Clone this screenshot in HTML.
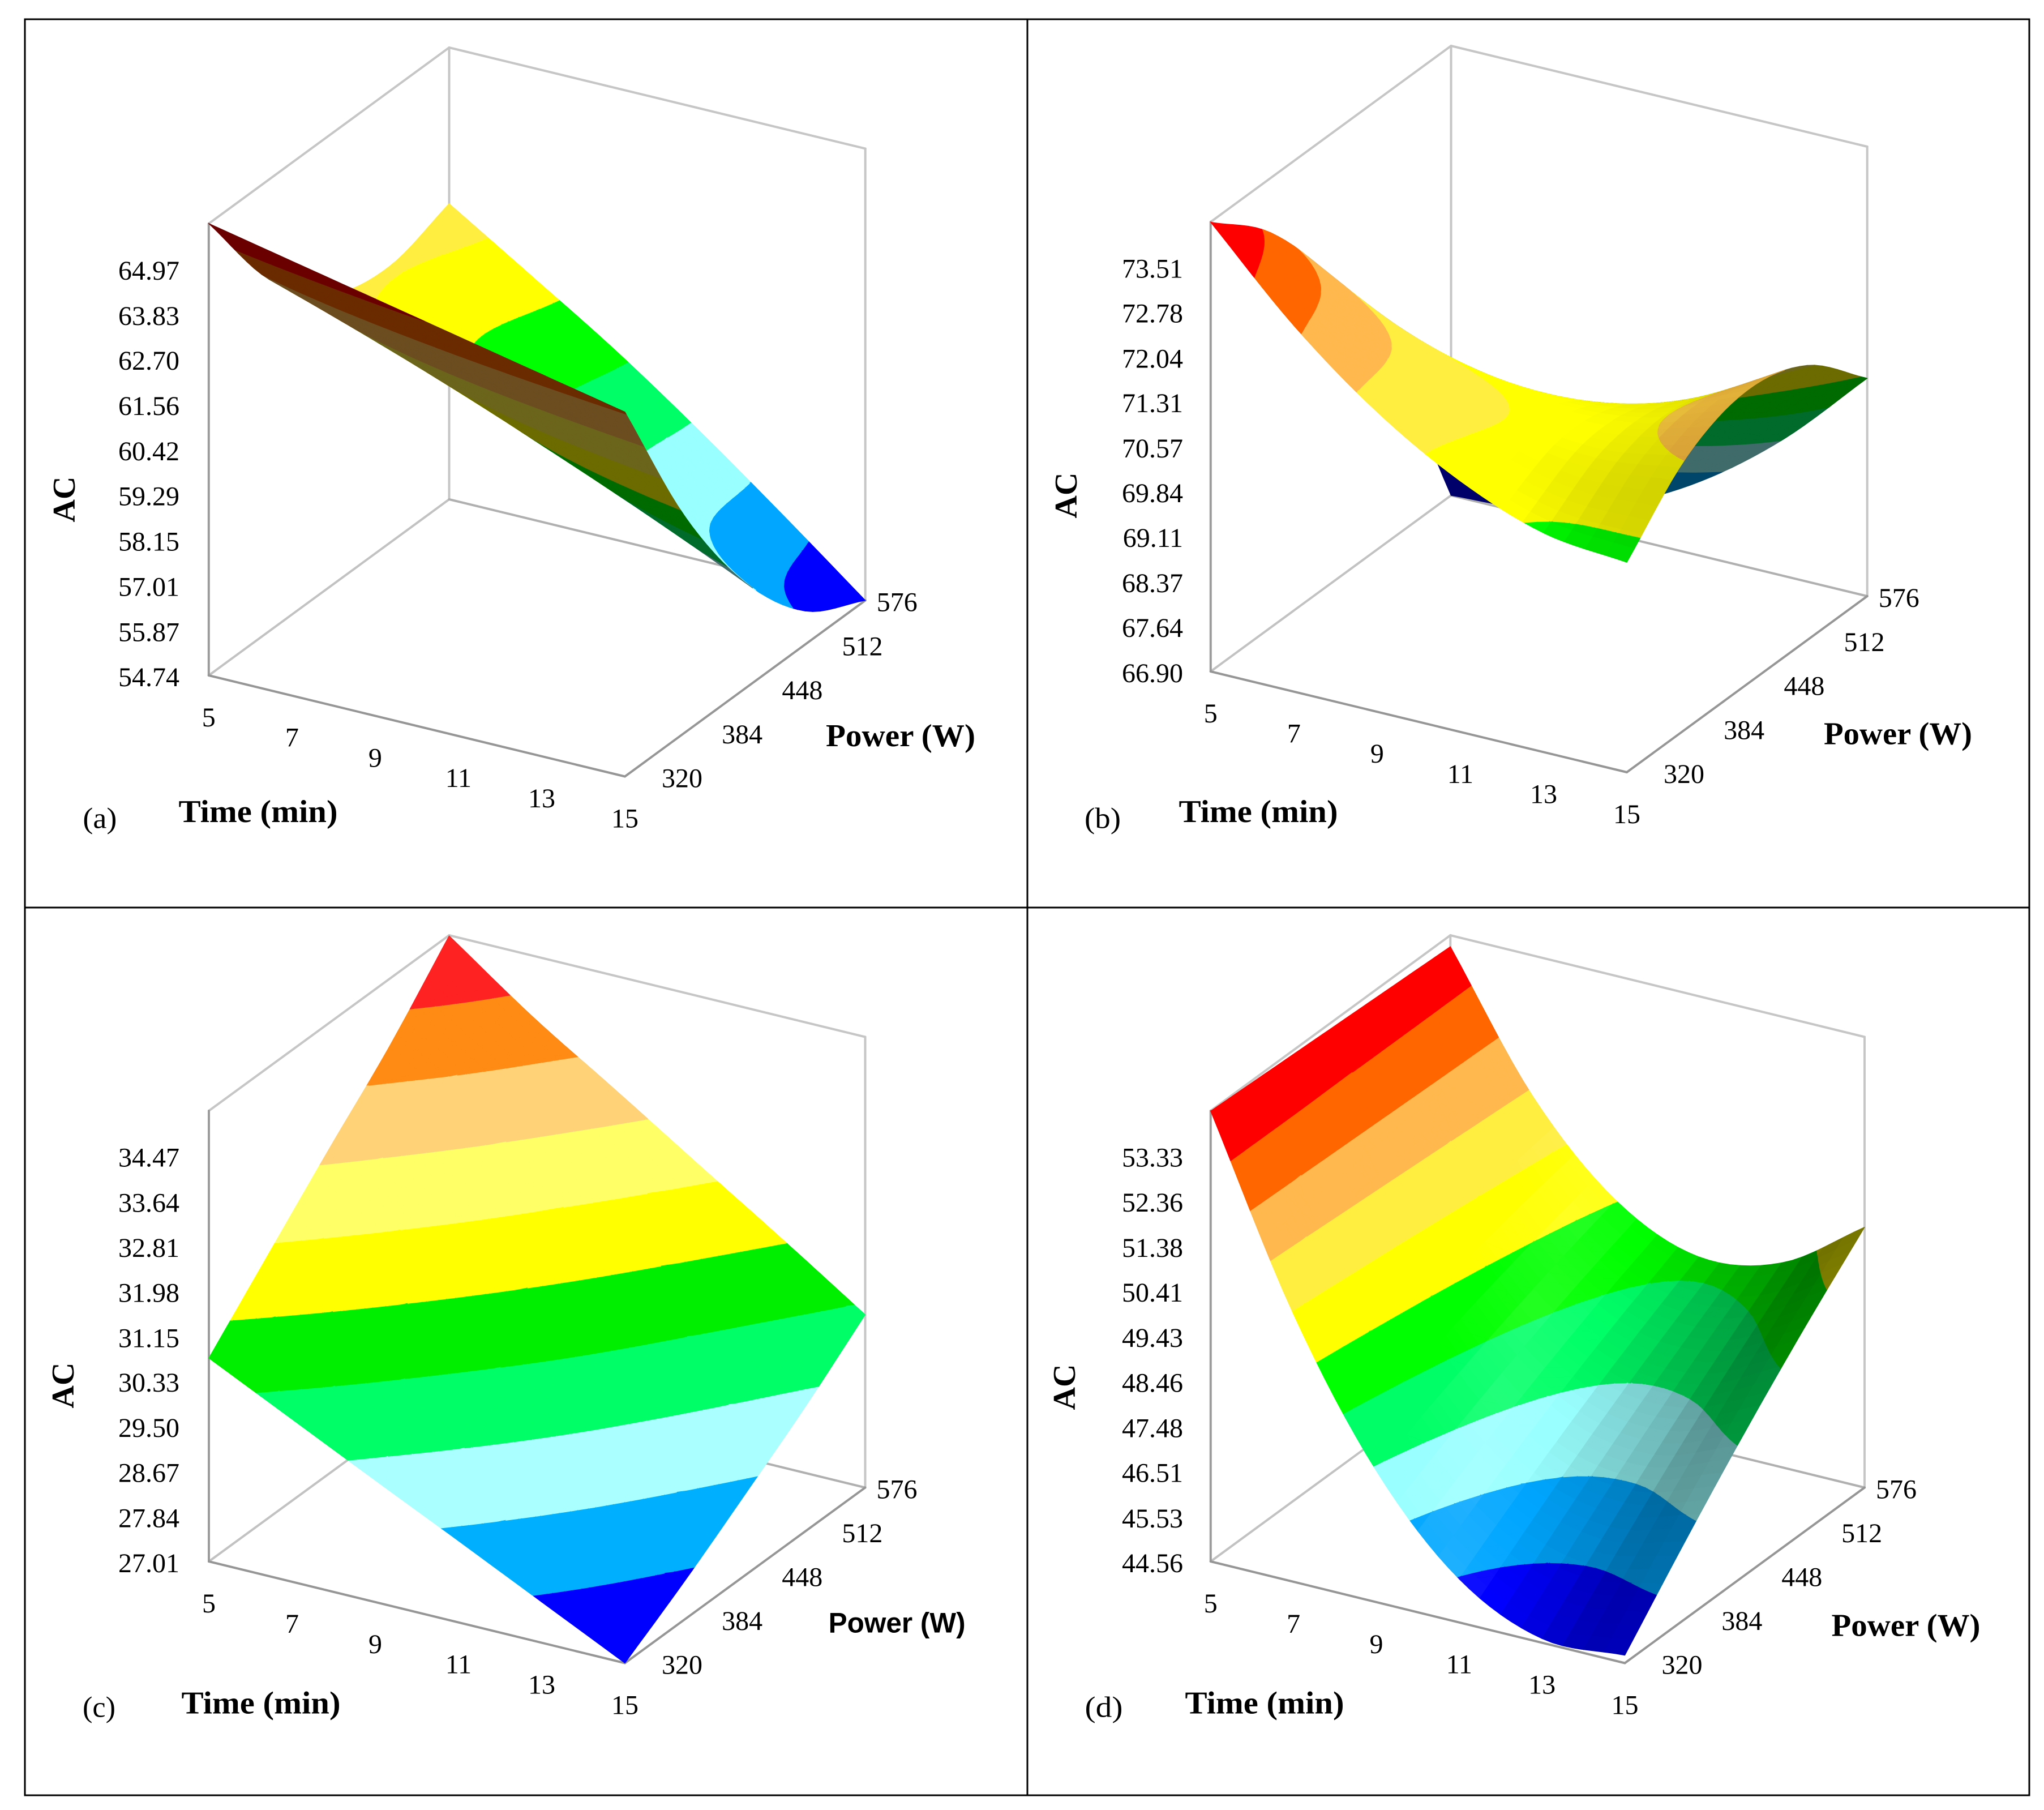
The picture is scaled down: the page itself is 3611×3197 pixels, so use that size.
<!DOCTYPE html>
<html lang="en">
<head>
<meta charset="utf-8">
<title>AC response surfaces</title>
<style>
html,body{margin:0;padding:0;background:#fff;}
#figure{display:block;width:3611px;height:3197px;background:#fff;}
text{fill:#000;font-family:"Liberation Serif",serif;}
</style>
</head>
<body>
<svg id="figure" xmlns="http://www.w3.org/2000/svg" width="3611" height="3197" viewBox="0 0 3611 3197">
  <rect x="0" y="0" width="3611" height="3197" fill="#fff"/>
  <g id="panels"></g>
  <g stroke="#000" stroke-width="3" fill="none">
    <rect x="44" y="34" width="3541" height="3137"/>
    <line x1="1815" y1="34" x2="1815" y2="3171"/>
    <line x1="44" y1="1603" x2="3585" y2="1603"/>
  </g>
</svg>
<script>
// Shared axis categories
const timeValues = [5, 7, 9, 11, 13, 15];
const powerValues = [320, 384, 448, 512, 576];

// AC axis tick labels
const acTicksA = [54.74, 55.87, 57.01, 58.15, 59.29, 60.42, 61.56, 62.70, 63.83, 64.97];
const acTicksB = [66.90, 67.64, 68.37, 69.11, 69.84, 70.57, 71.31, 72.04, 72.78, 73.51];
const acTicksC = [27.01, 27.84, 28.67, 29.50, 30.33, 31.15, 31.98, 32.81, 33.64, 34.47];
const acTicksD = [44.56, 45.53, 46.51, 47.48, 48.46, 49.43, 50.41, 51.38, 52.36, 53.33];

// AC response values: one row per time, one column per power
const acValuesA = [
  [66.11, 63.60, 62.10, 61.70, 62.18],
  [65.67, 62.93, 61.18, 60.50, 60.85],
  [65.23, 62.25, 60.25, 59.30, 59.50],
  [64.79, 61.55, 59.30, 58.05, 58.00],
  [64.35, 60.86, 58.36, 56.82, 56.40],
  [63.91, 60.17, 57.41, 55.58, 54.74]
];
const acValuesB = [
  [74.24, 73.35, 71.89, 69.86, 66.90],
  [72.88, 72.39, 71.25, 69.45, 67.00],
  [71.80, 71.68, 70.91, 69.49, 67.41],
  [71.00, 71.26, 70.87, 69.82, 68.12],
  [70.48, 71.12, 71.12, 70.46, 69.14],
  [70.33, 71.34, 71.70, 71.39, 70.46]
];
const acValuesC = [
  [30.75, 31.87, 32.98, 34.05, 35.29],
  [30.00, 31.07, 32.12, 33.16, 34.18],
  [29.25, 30.25, 31.25, 32.22, 33.20],
  [28.51, 29.44, 30.37, 31.28, 32.20],
  [27.76, 28.60, 29.44, 30.30, 31.21],
  [27.01, 27.72, 28.50, 29.30, 30.19]
];
const acValuesD = [
  [54.30, 54.24, 54.18, 54.12, 54.06],
  [50.35, 50.63, 50.87, 51.08, 51.25],
  [47.40, 47.99, 48.53, 49.02, 49.45],
  [45.50, 46.39, 47.22, 47.98, 48.67],
  [44.65, 45.85, 46.98, 48.02, 48.98],
  [44.73, 46.23, 47.65, 48.97, 50.19]
];

// Contour band colours, lowest band first
const bandColoursWarm = [[0,0,255],[0,166,255],[153,255,255],[0,255,102],[0,255,0],[255,255,0],[255,238,64],[255,184,77],[255,102,0],[255,0,0]];
const bandColoursFlat = [[0,0,255],[0,176,255],[170,255,255],[0,255,102],[0,238,0],[255,255,0],[255,255,102],[255,210,120],[255,138,20],[255,34,34]];

const panelLayouts = [
  {id:'a', ticks:acTicksA, grid:acValuesA, colours:bandColoursWarm, shade:0, shadeFrom:0, slopeV:0, tint:0, warm:1,
   ox:368.8, oy:1193, tx:735.2, ty:178.5, px:424.7, py:-311, h:798, tickRight:317, timeDy:74, powerDy:3,
   ac:[114,882], time:[456,1436], power:[1591,1302,264,'serif'], tag:[176.4,1447.6,'(a)',60]},
  {id:'b', ticks:acTicksB, grid:acValuesB, colours:bandColoursWarm, shade:0.28, shadeFrom:0, slopeV:1, tint:0, warm:2.4,
   ox:2138.8, oy:1186, tx:735.2, ty:178, px:424.7, py:-311, h:794, tickRight:2090, timeDy:74, powerDy:3,
   ac:[1884,875], time:[2223,1436], power:[3353,1298.5,262,'serif'], tag:[1948,1447.6,'(b)',64]},
  {id:'c', ticks:acTicksC, grid:acValuesC, colours:bandColoursFlat, shade:0, shadeFrom:0, slopeV:0, tint:0, warm:1,
   ox:369, oy:2758, tx:735, ty:179.5, px:424.5, py:-310, h:796, tickRight:317, timeDy:74, powerDy:3,
   ac:[112,2447], time:[461,3010.5], power:[1584.6,2867.5,242,'sans'], tag:[175,3017.6,'(c)',58]},
  {id:'d', ticks:acTicksD, grid:acValuesD, colours:bandColoursWarm, shade:0.47, shadeFrom:-0.49, slopeV:0, tint:0.13, warm:1,
   ox:2138.8, oy:2758, tx:731.7, ty:179.5, px:423.5, py:-310, h:796, tickRight:2090, timeDy:74, powerDy:3,
   ac:[1881,2450], time:[2234,3010.5], power:[3367,2873.6,263,'serif'], tag:[1950,3017.6,'(d)',67]}
];

const SVG_NS = 'http://www.w3.org/2000/svg';
const MESH_U = 40;
const MESH_V = 32;
const STRIPS_U = 20;
const STRIPS_V = 32;
const UNDERSIDE = 0.42;

function mk(tag, parent) {
  const el = document.createElementNS(SVG_NS, tag);
  parent.appendChild(el);
  return el;
}
function catmull(a, b, c, d, t) {
  return 0.5 * (2 * b + (c - a) * t + (2 * a - 5 * b + 4 * c - d) * t * t + (3 * b - a - 3 * c + d) * t * t * t);
}
function gridAt(grid, i, j) {
  const ni = grid.length, nj = grid[0].length;
  if (i < 0) return 2 * gridAt(grid, 0, j) - gridAt(grid, 1, j);
  if (i >= ni) return 2 * gridAt(grid, ni - 1, j) - gridAt(grid, ni - 2, j);
  if (j < 0) return 2 * grid[i][0] - grid[i][1];
  if (j >= nj) return 2 * grid[i][nj - 1] - grid[i][nj - 2];
  return grid[i][j];
}
function surfaceValue(grid, u, v) {
  const fu = u * (grid.length - 1), fv = v * (grid[0].length - 1);
  const iu = Math.min(Math.floor(fu), grid.length - 2), iv = Math.min(Math.floor(fv), grid[0].length - 2);
  const tu = fu - iu, tv = fv - iv;
  const r = [];
  for (let k = -1; k <= 2; k++) {
    r.push(catmull(gridAt(grid, iu + k, iv - 1), gridAt(grid, iu + k, iv), gridAt(grid, iu + k, iv + 1), gridAt(grid, iu + k, iv + 2), tv));
  }
  return catmull(r[0], r[1], r[2], r[3], tu);
}
function clipPoly(poly, lim, above) {
  const out = [];
  for (let i = 0; i < poly.length; i++) {
    const a = poly[i], b = poly[(i + 1) % poly.length];
    const ia = above ? a[2] >= lim : a[2] <= lim;
    const ib = above ? b[2] >= lim : b[2] <= lim;
    if (ia) out.push(a);
    if (ia !== ib) {
      const t = (lim - a[2]) / (b[2] - a[2]);
      out.push([a[0] + (b[0] - a[0]) * t, a[1] + (b[1] - a[1]) * t, lim]);
    }
  }
  return out;
}
function hex(c) {
  return '#' + c.map(function (x) {
    const n = Math.max(0, Math.min(255, Math.round(x)));
    return (n < 16 ? '0' : '') + n.toString(16);
  }).join('');
}
function drawPanel(cfg, root) {
  const g = mk('g', root);
  
  

  const first = cfg.ticks[0], last = cfg.ticks[cfg.ticks.length - 1];
  const step = (last - first) / (cfg.ticks.length - 1);
  const zMin = first, zMax = first + step * cfg.ticks.length;
  const uOf = function (t) { return (t - timeValues[0]) / (timeValues[timeValues.length - 1] - timeValues[0]); };
  const vOf = function (p) { return (p - powerValues[0]) / (powerValues[powerValues.length - 1] - powerValues[0]); };
  const sx = function (u, v) { return cfg.ox + cfg.tx * u + cfg.px * v; };
  const sy = function (u, v, z) { return cfg.oy + cfg.ty * u + cfg.py * v - cfg.h * (z - zMin) / (zMax - zMin); };

  // box wireframe
  const boxGroup = mk('g', g);
  
  
  const boxLines = [
    [0,0,zMax,0,1,zMax,'#c6c6c6','top-left-edge'],
    [0,1,zMax,1,1,zMax,'#c6c6c6','top-back-edge'],
    [1,1,zMax,1,1,zMin,'#c6c6c6','right-wall-edge'],
    [0,1,zMax,0,1,zMin,'#c6c6c6','back-wall-edge'],
    [0,1,zMin,0,0,zMin,'#c2c2c2','floor-left-edge'],
    [0,1,zMin,1,1,zMin,'#b0b0b0','floor-back-edge'],
    [0,0,zMax,0,0,zMin,'#9c9c9c','ac-axis-line'],
    [0,0,zMin,1,0,zMin,'#969696','time-axis-line'],
    [1,0,zMin,1,1,zMin,'#969696','power-axis-line']
  ];
  boxLines.forEach(function (b) {
    const line = mk('line', boxGroup);
    
    
    line.setAttribute('x1', sx(b[0], b[1]));
    line.setAttribute('y1', sy(b[0], b[1], b[2]));
    line.setAttribute('x2', sx(b[3], b[4]));
    line.setAttribute('y2', sy(b[3], b[4], b[5]));
    line.setAttribute('stroke', b[6]);
    line.setAttribute('stroke-width', '4');
    line.setAttribute('stroke-linecap', 'round');
  });

  // surface
  const surf = mk('g', g);
  
  
  let curFill = null, curD = '';
  const flush = function () {
    if (!curD) return;
    const path = mk('path', surf);
    
    
    path.setAttribute('d', curD);
    path.setAttribute('fill', curFill);
    path.setAttribute('stroke', curFill);
    path.setAttribute('stroke-width', '1.2');
    path.setAttribute('stroke-linejoin', 'round');
    curD = '';
  };
  const range = zMax - zMin;
  const colourFor = function (band, underside, u, v) {
    const base = cfg.colours[band];
    if (underside) return hex(base.map(function (c) { return c * UNDERSIDE; }));
    if (!cfg.shade) return hex(base);
    const su = (Math.min(Math.floor(u * STRIPS_U), STRIPS_U - 1) + 0.5) / STRIPS_U;
    const sv = (Math.min(Math.floor(v * STRIPS_V), STRIPS_V - 1) + 0.5) / STRIPS_V;
    const du = 1 / STRIPS_U, dv = 1 / STRIPS_V;
    const zu = (surfaceValue(cfg.grid, su + du / 2, sv) - surfaceValue(cfg.grid, su - du / 2, sv)) / du / range;
    const zv = (surfaceValue(cfg.grid, su, sv + dv / 2) - surfaceValue(cfg.grid, su, sv - dv / 2)) / dv / range;
    const x = zu + cfg.slopeV * Math.max(0, zv);
    if (x > cfg.shadeFrom) {
      const s = Math.max(0.4, 1 - cfg.shade * (x - cfg.shadeFrom));
      if (band === 6 && cfg.warm !== 1) {
        return hex([base[0] * s, base[1] * Math.pow(s, cfg.warm), base[2] * s]);
      }
      return hex(base.map(function (c) { return c * s; }));
    }
    const t = cfg.tint * Math.max(0, 1 - Math.abs(x + 0.8) / 0.3);
    return hex(base.map(function (c) { return c + (255 - c) * t; }));
  };
  const emitTri = function (tri, uc, vc) {
    const A = [sx(tri[0][0], tri[0][1]), sy(tri[0][0], tri[0][1], tri[0][2])];
    const B = [sx(tri[1][0], tri[1][1]), sy(tri[1][0], tri[1][1], tri[1][2])];
    const C = [sx(tri[2][0], tri[2][1]), sy(tri[2][0], tri[2][1], tri[2][2])];
    const cross = (B[0] - A[0]) * (C[1] - A[1]) - (B[1] - A[1]) * (C[0] - A[0]);
    const underside = cross < 0;
    for (let band = 0; band < cfg.colours.length; band++) {
      const lo = zMin + band * step, hi = lo + step;
      const useLo = band > 0, useHi = band < cfg.colours.length - 1;
      let poly = tri.map(function (p) { return [p[0], p[1], p[2]]; });
      if (useLo) poly = clipPoly(poly, lo, true);
      if (poly.length < 3) continue;
      if (useHi) poly = clipPoly(poly, hi, false);
      if (poly.length < 3) continue;
      const fill = colourFor(band, underside, uc, vc);
      if (fill !== curFill) { flush(); curFill = fill; }
      curD += 'M' + poly.map(function (p) {
        return sx(p[0], p[1]).toFixed(1) + ' ' + sy(p[0], p[1], p[2]).toFixed(1);
      }).join('L') + 'Z';
    }
  };
  const zs = [];
  for (let i = 0; i <= MESH_U; i++) {
    zs.push([]);
    for (let j = 0; j <= MESH_V; j++) zs[i].push(surfaceValue(cfg.grid, i / MESH_U, j / MESH_V));
  }
  for (let j = MESH_V - 1; j >= 0; j--) {
    for (let i = 0; i < MESH_U; i++) {
      const u0 = i / MESH_U, u1 = (i + 1) / MESH_U, v0 = j / MESH_V, v1 = (j + 1) / MESH_V;
      const p00 = [u0, v0, zs[i][j]], p10 = [u1, v0, zs[i + 1][j]], p01 = [u0, v1, zs[i][j + 1]], p11 = [u1, v1, zs[i + 1][j + 1]];
      const uc = (u0 + u1) / 2, vc = (v0 + v1) / 2;
      emitTri([p01, p11, p00], uc, vc);
      emitTri([p11, p10, p00], uc, vc);
    }
  }
  flush();

  // tick labels
  cfg.ticks.forEach(function (tick) {
    const t = mk('text', g);
    
    
    t.setAttribute('x', cfg.tickRight);
    t.setAttribute('y', sy(0, 0, tick) + 3 + 16);
    t.setAttribute('text-anchor', 'end');
    t.setAttribute('font-size', '48');
    t.textContent = tick.toFixed(2);
  });
  timeValues.forEach(function (val) {
    const t = mk('text', g);
    
    
    t.setAttribute('x', sx(uOf(val), 0));
    t.setAttribute('y', sy(uOf(val), 0, zMin) + cfg.timeDy + 16);
    t.setAttribute('text-anchor', 'middle');
    t.setAttribute('font-size', '48');
    t.textContent = String(val);
  });
  powerValues.forEach(function (val, idx) {
    const t = mk('text', g);
    
    
    const dx = idx === powerValues.length - 1 ? 56 : 101;
    t.setAttribute('x', sx(1, vOf(val)) + dx);
    t.setAttribute('y', sy(1, vOf(val), zMin) + cfg.powerDy + 16);
    t.setAttribute('text-anchor', 'middle');
    t.setAttribute('font-size', '48');
    t.textContent = String(val);
  });

  // titles
  const acTitle = mk('text', g);
  
  
  acTitle.setAttribute('transform', 'translate(' + (cfg.ac[0] + 18) + ' ' + cfg.ac[1] + ') rotate(-90)');
  acTitle.setAttribute('text-anchor', 'middle');
  acTitle.setAttribute('font-size', '56');
  acTitle.setAttribute('font-weight', '700');
  acTitle.textContent = 'AC';

  const timeTitle = mk('text', g);
  
  
  timeTitle.setAttribute('x', cfg.time[0]);
  timeTitle.setAttribute('y', cfg.time[1] + 16);
  timeTitle.setAttribute('text-anchor', 'middle');
  timeTitle.setAttribute('font-size', '56');
  timeTitle.setAttribute('font-weight', '700');
  timeTitle.setAttribute('textLength', '281');
  timeTitle.setAttribute('lengthAdjust', 'spacingAndGlyphs');
  timeTitle.textContent = 'Time (min)';

  const powerTitle = mk('text', g);
  
  
  powerTitle.setAttribute('x', cfg.power[0]);
  powerTitle.setAttribute('y', cfg.power[1] + 16);
  powerTitle.setAttribute('text-anchor', 'middle');
  powerTitle.setAttribute('font-size', cfg.power[3] === 'sans' ? '50' : '56');
  powerTitle.setAttribute('font-weight', '700');
  powerTitle.setAttribute('textLength', cfg.power[2]);
  powerTitle.setAttribute('lengthAdjust', 'spacingAndGlyphs');
  if (cfg.power[3] === 'sans') powerTitle.setAttribute('style', 'font-family:"Liberation Sans",sans-serif');
  powerTitle.textContent = 'Power (W)';

  const tag = mk('text', g);
  
  
  tag.setAttribute('x', cfg.tag[0]);
  tag.setAttribute('y', cfg.tag[1] + 15);
  tag.setAttribute('text-anchor', 'middle');
  tag.setAttribute('font-size', '52');
  tag.setAttribute('textLength', cfg.tag[3]);
  tag.setAttribute('lengthAdjust', 'spacingAndGlyphs');
  tag.textContent = cfg.tag[2];
}
const panelsRoot = document.getElementById('panels');
panelLayouts.forEach(function (cfg) { drawPanel(cfg, panelsRoot); });
</script>
</body>
</html>
